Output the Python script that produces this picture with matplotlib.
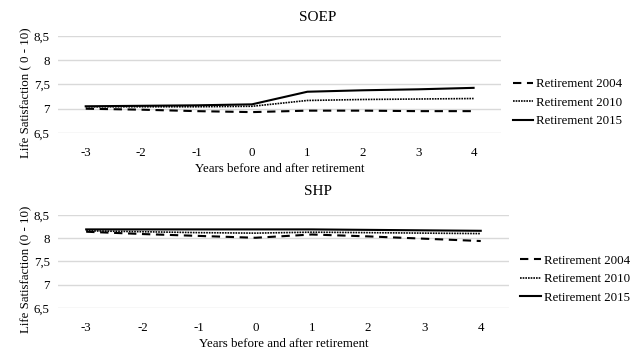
import numpy as np
import matplotlib.pyplot as plt

plt.rcParams['font.family'] = ['Liberation Serif', 'DejaVu Serif']

# Data
years = [-3, -2, -1, 0, 1, 2, 3, 4]
labels = ['Retirement 2004', 'Retirement 2010', 'Retirement 2015']

soep_2004 = [7.00, 6.98, 6.95, 6.93, 6.96, 6.96, 6.95, 6.95]
soep_2010 = [7.04, 7.04, 7.04, 7.05, 7.17, 7.19, 7.20, 7.21]
soep_2015 = [7.05, 7.06, 7.07, 7.09, 7.35, 7.38, 7.40, 7.43]

shp_2004 = [8.14, 8.09, 8.05, 8.01, 8.08, 8.04, 7.99, 7.94]
shp_2010 = [8.16, 8.14, 8.12, 8.11, 8.13, 8.12, 8.11, 8.10]
shp_2015 = [8.19, 8.19, 8.19, 8.19, 8.19, 8.18, 8.17, 8.16]

yticks = [6.5, 7, 7.5, 8, 8.5]
ytick_labels = ['6,5', '7', '7,5', '8', '8,5']

styles = [
    dict(linestyle=(0, (4, 2.7)), linewidth=1.5),
    dict(linestyle=(0, (1, 0.6)), linewidth=1.2),
    dict(linestyle='-', linewidth=1.5),
]

fs = 9.3
fig = plt.figure(figsize=(6.36, 3.49), dpi=100)

panels = [
    ('SOEP', [soep_2004, soep_2010, soep_2015], 'Life Satisfaction ( 0 - 10)',
     [0.0912, 0.619, 0.697, 0.278], 0.951, 0.705),
    ('SHP', [shp_2004, shp_2010, shp_2015], 'Life Satisfaction (0 - 10)',
     [0.0912, 0.1175, 0.709, 0.2665], 0.450, 0.200),
]

for title, series, ylab, rect, ty, leg_y in panels:
    ax = fig.add_axes(rect)
    for vals, lab, st in zip(series, labels, styles):
        ax.plot(years, vals, color='black', label=lab, **st)
    ax.set_xlim(-3.5, 4.5)
    ax.set_ylim(6.5, 8.5)
    ax.set_xticks(years)
    ax.set_xticklabels([str(y) for y in years], fontsize=fs)
    ax.set_yticks(yticks)
    ax.set_yticklabels(ytick_labels, fontsize=fs)
    ax.tick_params(axis='x', length=0, pad=10)
    ax.tick_params(axis='y', length=0, pad=6)
    ax.grid(axis='y', color='#d9d9d9', linewidth=1)
    ax.set_axisbelow(True)
    for s in ax.spines.values():
        s.set_visible(False)
    ax.set_xlabel('Years before and after retirement', fontsize=fs, labelpad=3)
    ax.set_ylabel(ylab, fontsize=fs)
    ax.yaxis.set_label_coords(-0.058, 0.42)
    fig.text(0.5, ty, title, fontsize=11, ha='center', va='center')
    leg = ax.legend(loc='center left', bbox_to_anchor=(rect[0] + rect[2] + 0.01, leg_y),
                    bbox_transform=fig.transFigure, frameon=False, fontsize=fs,
                    handlelength=1.6, handletextpad=0.2, labelspacing=0.5,
                    borderaxespad=0)

fig.savefig('out.png', dpi=100)
